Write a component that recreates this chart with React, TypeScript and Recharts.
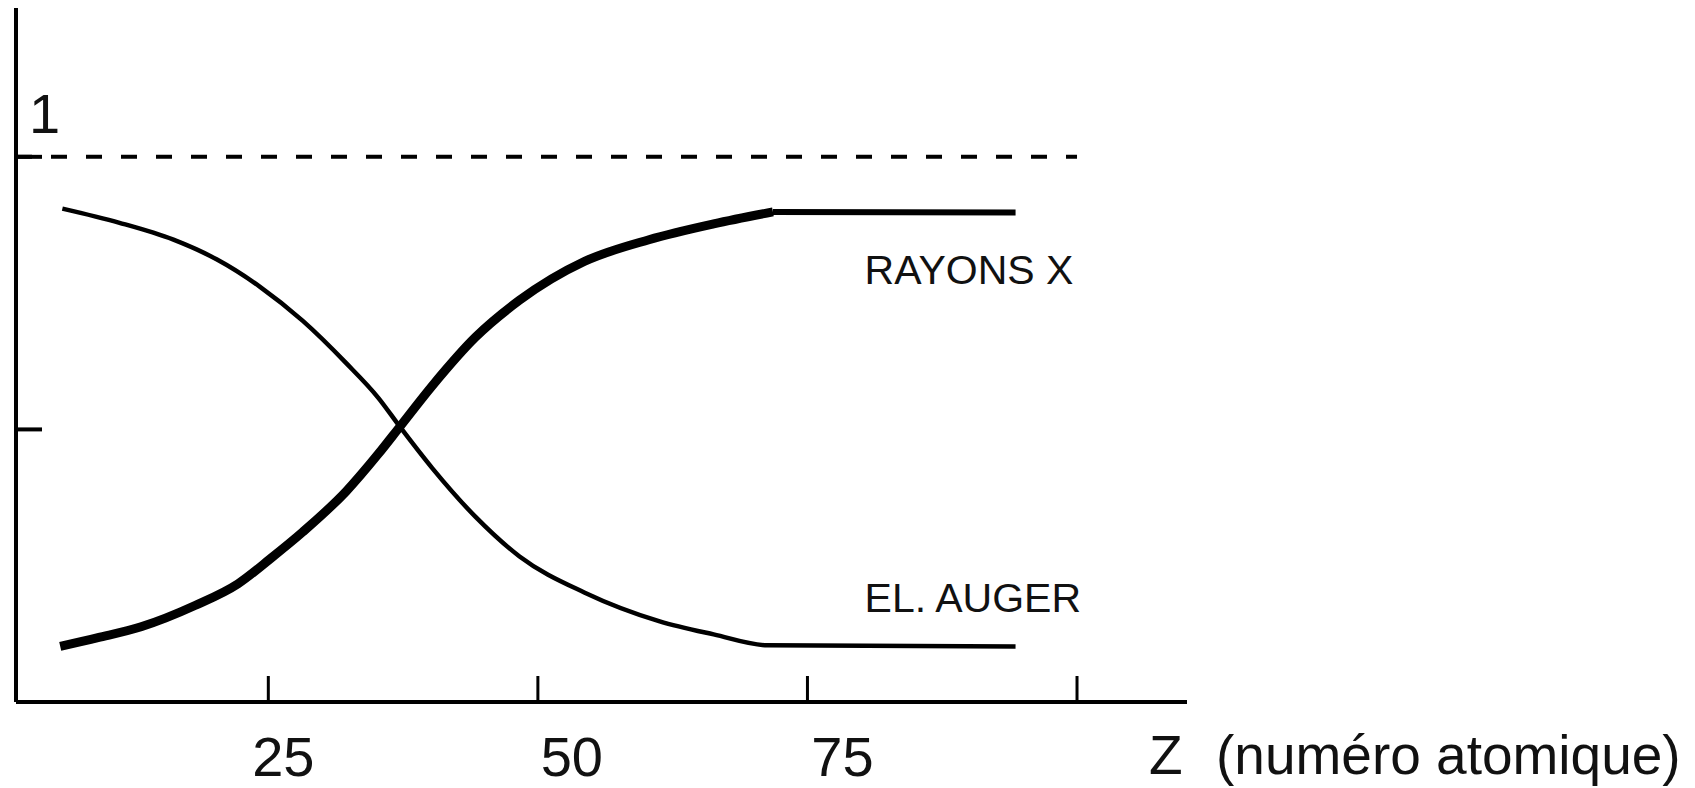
import { LineChart, Line, XAxis, YAxis, ReferenceLine } from "recharts"

// axis ticks
const zTicks = [25, 50, 75, 100]
const zTickLabels: Record<number, string> = { 25: "25", 50: "50", 75: "75", 100: "" }
const yieldTicks = [0.5, 1]

// electrons Auger (thin curve)
const augerZ = [5.9, 11.2, 16.2, 20.2, 24.2, 28.2, 32.2, 35.2, 37.2, 40.2, 44.2, 48.3, 54.3, 61.3, 66.3, 71.3, 94.3]
const augerYield = [0.905, 0.879, 0.848, 0.812, 0.762, 0.699, 0.622, 0.558, 0.505, 0.429, 0.34, 0.267, 0.201, 0.148, 0.124, 0.104, 0.102]

// rayons X (thick curve, then thinner plateau)
const xrayZ = [5.7, 9.2, 13.2, 18.2, 22.2, 25.2, 28.2, 32.2, 35.2, 37.2, 40.2, 44.2, 48.3, 54.3, 60.3, 66.3, 71.8]
const xrayYield = [0.102, 0.118, 0.138, 0.177, 0.217, 0.263, 0.312, 0.386, 0.455, 0.505, 0.58, 0.669, 0.737, 0.808, 0.848, 0.877, 0.899]
const xrayFlatZ = [71.8, 94.3]
const xrayFlatYield = [0.899, 0.898]

const FONT = "'Liberation Sans', Arial, Helvetica, sans-serif"

const toPoints = (zs: number[], vs: number[]) => zs.map((z, i) => ({ z, v: vs[i] }))

const augerData = toPoints(augerZ, augerYield)
const xrayData = toPoints(xrayZ, xrayYield)
const xrayFlatData = toPoints(xrayFlatZ, xrayFlatYield)

function ZTick(props: any) {
  const { x, y, payload } = props
  // hand-placed labels sit a bit right of their tick
  const nudge: Record<number, number> = { 25: 15, 50: 34, 75: 35 }
  const label = zTickLabels[payload.value]
  return (
    <g>
      <line x1={x} y1={y} x2={x} y2={y - 26} stroke="#000" strokeWidth={3} />
      {label && (
        <text
          x={x + (nudge[payload.value] ?? 0)}
          y={y + 74}
          textAnchor="middle"
          fontSize={56}
          fontFamily={FONT}
          fill="#111"
        >
          {label}
        </text>
      )}
    </g>
  )
}

function YieldTick(props: any) {
  const { x, y, payload } = props
  return (
    <g>
      <line x1={x} y1={y} x2={x + 26} y2={y} stroke="#000" strokeWidth={4} />
      {payload.value === 1 && (
        <text x={x + 13} y={y - 24} fontSize={56} fontFamily={FONT} fill="#111">
          1
        </text>
      )}
    </g>
  )
}

function seriesLabel(text: string, lastIndex: number, dx: number, dy: number) {
  return (props: any) => {
    if (props.index !== lastIndex) return null
    return (
      <text x={props.x + dx} y={props.y + dy} fontSize={41} fontFamily={FONT} fill="#111">
        {text}
      </text>
    )
  }
}

function AxisTitle(props: any) {
  const vb = props.viewBox
  return (
    <text y={vb.y + 72} fontSize={55} fontFamily={FONT} fill="#111">
      <tspan x={vb.x + vb.width - 38}>Z</tspan>
      <tspan x={vb.x + vb.width + 29}>(numéro atomique)</tspan>
    </text>
  )
}

export default function App() {
  return (
    <div style={{ position: "absolute", left: 0, top: 0, background: "#fff" }}>
      <LineChart
        width={1695}
        height={788}
        margin={{ top: 8, right: 508, left: 0, bottom: 0 }}
      >
        <XAxis
          type="number"
          dataKey="z"
          domain={[1.6, 110.2]}
          ticks={zTicks}
          height={86}
          tickSize={0}
          tickMargin={0}
          tickLine={false}
          tick={<ZTick />}
          axisLine={{ stroke: "#000", strokeWidth: 4 }}
          allowDataOverflow
          label={(p: any) => <AxisTitle {...p} />}
        />
        <YAxis
          type="number"
          domain={[0, 1.273]}
          ticks={yieldTicks}
          width={16}
          tickSize={0}
          tickMargin={0}
          tickLine={false}
          tick={<YieldTick />}
          axisLine={{ stroke: "#000", strokeWidth: 4 }}
          allowDataOverflow
        />

        <ReferenceLine
          segment={[{ x: 1.6, y: 1 }, { x: 100, y: 1 }]}
          stroke="#000"
          strokeWidth={4}
          strokeDasharray="16 19"
        />

        <Line
          data={augerData}
          dataKey="v"
          type="monotone"
          stroke="#000"
          strokeWidth={4.5}
          dot={false}
          isAnimationActive={false}
          label={seriesLabel("EL. AUGER", augerData.length - 1, -151, -34)}
        />
        <Line
          data={xrayData}
          dataKey="v"
          type="monotone"
          stroke="#000"
          strokeWidth={9}
          dot={false}
          isAnimationActive={false}
        />
        <Line
          data={xrayFlatData}
          dataKey="v"
          type="linear"
          stroke="#000"
          strokeWidth={6}
          dot={false}
          isAnimationActive={false}
          label={seriesLabel("RAYONS X", xrayFlatData.length - 1, -151, 72)}
        />
      </LineChart>
    </div>
  )
}
